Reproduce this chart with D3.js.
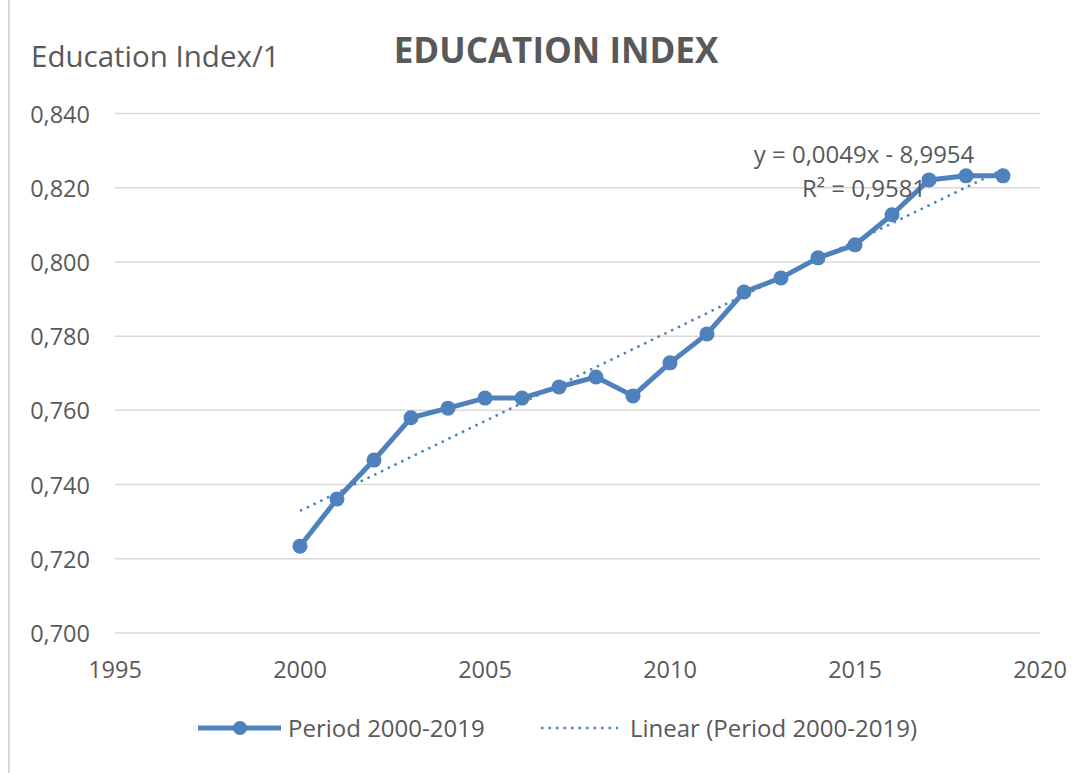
<!DOCTYPE html>
<html>
<head>
<meta charset="utf-8">
<script src="https://cdn.jsdelivr.net/npm/d3@7"></script>
<style>
  body { margin: 0; background: #fff; }
  text { font-family: "Open Sans", "Noto Sans", sans-serif; fill: #595959; }
</style>
</head>
<body>
<div id="chart"></div>
<script>
// Data
const years = [2000, 2001, 2002, 2003, 2004, 2005, 2006, 2007, 2008, 2009,
               2010, 2011, 2012, 2013, 2014, 2015, 2016, 2017, 2018, 2019];
const educationIndex = [0.7234, 0.7361, 0.7466, 0.7580, 0.7606, 0.7633, 0.7633, 0.7663, 0.7690, 0.7639,
                        0.7728, 0.7806, 0.7919, 0.7957, 0.8011, 0.8046, 0.8127, 0.8221, 0.8232, 0.8232];
const yTicks = [0.70, 0.72, 0.74, 0.76, 0.78, 0.80, 0.82, 0.84];
const xTicks = [1995, 2000, 2005, 2010, 2015, 2020];
const seriesName = "Period 2000-2019";
const trendName = "Linear (Period 2000-2019)";
const equationText = "y = 0,0049x - 8,9954";
const r2Text = "R² = 0,9581";

const width = 1089;
const height = 773;
const blue = "#4f81bd";
const fmt = v => d3.format(".3f")(v).replace(".", ",");

const data = years.map((y, i) => ({ year: y, value: educationIndex[i] }));

const svg = d3.select("#chart").append("svg")
    .attr("width", width)
    .attr("height", height);

// chart frame (left edge only visible)
svg.append("line")
    .attr("x1", 9).attr("x2", 9)
    .attr("y1", 0).attr("y2", height)
    .attr("stroke", "#d9d9d9")
    .attr("stroke-width", 2);

// Scales
const x = d3.scaleLinear().domain([1995, 2020]).range([115, 1040]);
const y = d3.scaleLinear().domain([0.70, 0.84]).range([633, 113.5]);

// Gridlines
svg.append("g")
    .selectAll("line")
    .data(yTicks)
    .enter()
    .append("line")
    .attr("x1", x(1995))
    .attr("x2", x(2020))
    .attr("y1", d => y(d))
    .attr("y2", d => y(d))
    .attr("stroke", "#d9d9d9")
    .attr("stroke-width", 1.5);

// Y tick labels
svg.append("g")
    .selectAll("text")
    .data(yTicks)
    .enter()
    .append("text")
    .attr("x", 90)
    .attr("y", d => y(d) + 9)
    .attr("text-anchor", "end")
    .style("font-size", "23.5px")
    .text(fmt);

// X tick labels
svg.append("g")
    .selectAll("text")
    .data(xTicks)
    .enter()
    .append("text")
    .attr("x", d => x(d))
    .attr("y", 678)
    .attr("text-anchor", "middle")
    .style("font-size", "23.5px")
    .text(d => d);

// Axis title and chart title
svg.append("text")
    .attr("x", 31)
    .attr("y", 67)
    .style("font-size", "29.5px")
    .text("Education Index/1");

svg.append("text")
    .attr("x", 556)
    .attr("y", 63)
    .attr("text-anchor", "middle")
    .style("font-size", "35px")
    .style("font-weight", "bold")
    .text("EDUCATION INDEX");

// Linear trend (least squares on the series)
const mx = d3.mean(data, d => d.year);
const my = d3.mean(data, d => d.value);
const slope = d3.sum(data, d => (d.year - mx) * (d.value - my)) / d3.sum(data, d => (d.year - mx) ** 2);
const intercept = my - slope * mx;
const trendEnds = [years[0], years[years.length - 1]];

svg.append("line")
    .attr("x1", x(trendEnds[0]))
    .attr("y1", y(slope * trendEnds[0] + intercept))
    .attr("x2", x(trendEnds[1]))
    .attr("y2", y(slope * trendEnds[1] + intercept))
    .attr("stroke", blue)
    .attr("stroke-width", 2.5)
    .attr("stroke-dasharray", "2.5,5");

// Series line
const line = d3.line()
    .x(d => x(d.year))
    .y(d => y(d.value));

svg.append("path")
    .datum(data)
    .attr("d", line)
    .attr("fill", "none")
    .attr("stroke", blue)
    .attr("stroke-width", 5)
    .attr("stroke-linejoin", "round");

svg.append("g")
    .selectAll("circle")
    .data(data)
    .enter()
    .append("circle")
    .attr("cx", d => x(d.year))
    .attr("cy", d => y(d.value))
    .attr("r", 7.5)
    .attr("fill", blue);

// Trendline equation
svg.append("text")
    .attr("x", 864)
    .attr("y", 163)
    .attr("text-anchor", "middle")
    .style("font-size", "24px")
    .text(equationText);

svg.append("text")
    .attr("x", 864)
    .attr("y", 197)
    .attr("text-anchor", "middle")
    .style("font-size", "24px")
    .text(r2Text);

// Legend
const legend = svg.append("g");

legend.append("line")
    .attr("x1", 198).attr("x2", 281)
    .attr("y1", 728).attr("y2", 728)
    .attr("stroke", blue)
    .attr("stroke-width", 5);

legend.append("circle")
    .attr("cx", 240).attr("cy", 728)
    .attr("r", 7)
    .attr("fill", blue);

legend.append("text")
    .attr("x", 288)
    .attr("y", 737)
    .style("font-size", "24px")
    .text(seriesName);

legend.append("line")
    .attr("x1", 541).attr("x2", 618)
    .attr("y1", 728).attr("y2", 728)
    .attr("stroke", blue)
    .attr("stroke-width", 2.5)
    .attr("stroke-dasharray", "2.5,5");

legend.append("text")
    .attr("x", 630)
    .attr("y", 737)
    .style("font-size", "24px")
    .text(trendName);
</script>
</body>
</html>
